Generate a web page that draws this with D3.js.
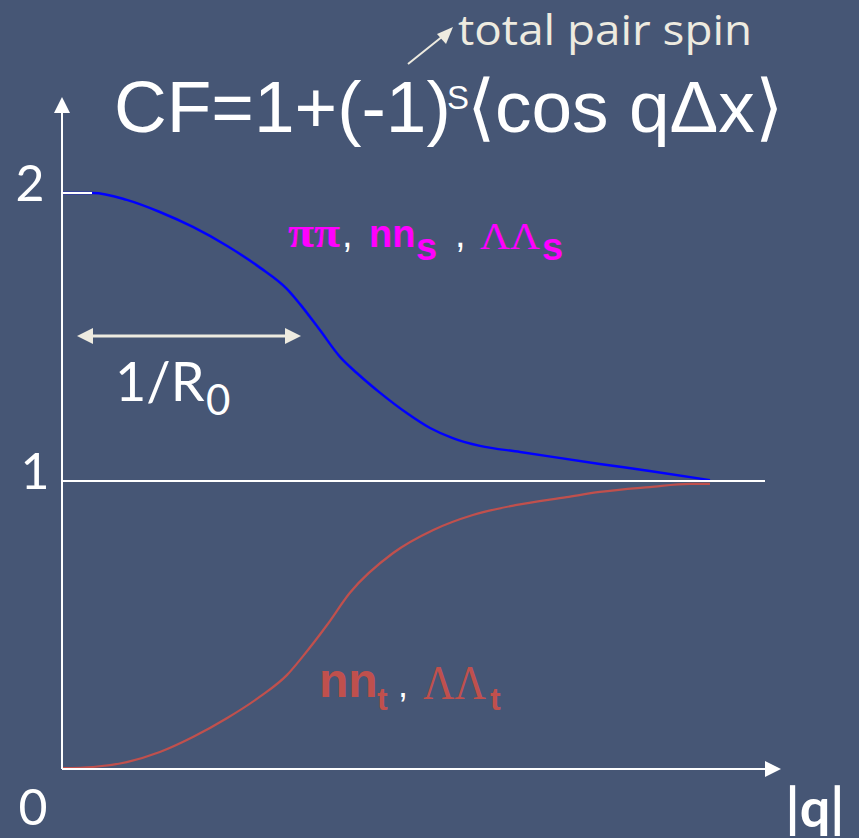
<!DOCTYPE html>
<html>
<head>
<meta charset="utf-8">
<script src="https://cdn.jsdelivr.net/npm/d3@7"></script>
<style>
  html, body { margin: 0; padding: 0; background: #465675; }
  svg { display: block; }
</style>
</head>
<body>
<svg id="chart" width="859" height="838"></svg>
<script>
// Momentum transfer |q| (arbitrary units) at which the curves are sampled
const qSinglet = [0, 0.48, 1.0, 1.51, 2.02, 2.55, 3.06, 3.47, 3.67, 3.98, 4.29, 4.55, 4.91, 5.32, 5.68, 6.03, 6.45, 7.07, 8.30, 9.07, 10];
// Correlation function for spin-singlet pairs (ππ, nn_s, ΛΛ_s)
const cfSinglet = [2.000, 2.000, 1.976, 1.934, 1.882, 1.816, 1.740, 1.667, 1.615, 1.524, 1.431, 1.375, 1.306, 1.236, 1.184, 1.149, 1.122, 1.101, 1.059, 1.035, 1.003];

const qTriplet = [0, 0.48, 1.0, 1.51, 2.02, 2.55, 3.06, 3.47, 3.72, 4.09, 4.44, 5.11, 5.73, 6.34, 7.02, 7.79, 8.30, 9.07, 9.69, 10];
// Correlation function for spin-triplet pairs (nn_t, ΛΛ_t)
const cfTriplet = [0.003, 0.007, 0.024, 0.059, 0.111, 0.177, 0.252, 0.326, 0.392, 0.500, 0.611, 0.750, 0.830, 0.882, 0.917, 0.944, 0.962, 0.979, 0.990, 0.990];

const yTickLabels = ["0", "1", "2"];

const svg = d3.select("#chart");
const x = d3.scaleLinear().domain([0, 10]).range([62, 710]);
const y = d3.scaleLinear().domain([0, 2]).range([769, 193]);

const white = "#ffffff";
const cream = "#eeebe0";

// Curves
const line = d3.line().x(d => x(d[0])).y(d => y(d[1])).curve(d3.curveMonotoneX);

svg.append("path")
  .datum(d3.zip(qTriplet, cfTriplet))
  .attr("d", line)
  .attr("fill", "none")
  .attr("stroke", "#c0504d")
  .attr("stroke-width", 2.2);

svg.append("path")
  .datum(d3.zip(qSinglet, cfSinglet))
  .attr("d", line)
  .attr("fill", "none")
  .attr("stroke", "#0000ff")
  .attr("stroke-width", 2.5);

// Axes with arrowheads
const x0 = x(0), y0 = y(0);
svg.append("line").attr("x1", x0).attr("y1", y0).attr("x2", 768).attr("y2", y0)
  .attr("stroke", white).attr("stroke-width", 2);
svg.append("path").attr("d", `M781,${y0} L765,${y0 - 8} L765,${y0 + 8} Z`).attr("fill", white);

svg.append("line").attr("x1", x0).attr("y1", y0).attr("x2", x0).attr("y2", 110)
  .attr("stroke", white).attr("stroke-width", 2);
svg.append("path").attr("d", `M${x0},97 L${x0 - 8},113 L${x0 + 8},113 Z`).attr("fill", white);

// Reference line CF = 1 and the short mark at CF = 2
svg.append("line").attr("x1", x0).attr("x2", 765).attr("y1", y(1)).attr("y2", y(1))
  .attr("stroke", white).attr("stroke-width", 2);
svg.append("line").attr("x1", x0).attr("x2", 92).attr("y1", y(2)).attr("y2", y(2))
  .attr("stroke", white).attr("stroke-width", 2);

// Tick labels
const tickFont = "Lato, 'Open Sans', sans-serif";
svg.selectAll("text.tick")
  .data(yTickLabels)
  .join("text")
  .attr("class", "tick")
  .attr("x", (d, i) => [33, 35, 30][i])
  .attr("y", (d, i) => i === 0 ? 825 : y(+d) + 8)
  .attr("text-anchor", "middle")
  .attr("font-family", tickFont)
  .attr("font-size", 50)
  .attr("fill", white)
  .text(d => d);

svg.append("text")
  .attr("x", 815).attr("y", 827)
  .attr("text-anchor", "middle")
  .attr("font-family", tickFont)
  .attr("font-weight", "bold")
  .attr("font-size", 54)
  .attr("fill", white)
  .text("|q|");

// Title formula
const title = svg.append("text")
  .attr("x", 114).attr("y", 132)
  .attr("font-family", "'Liberation Sans', Arial, sans-serif")
  .attr("font-size", 73)
  .attr("fill", white);
title.append("tspan").text("CF=1+(-1)");
title.append("tspan").attr("x", 447).attr("font-size", 33).attr("dy", -23).text("S");
title.append("tspan").attr("x", 467).attr("dy", 23).text("⟨cos qΔx⟩");

// Annotation pointing to the exponent
svg.append("line").attr("x1", 408).attr("y1", 64).attr("x2", 443).attr("y2", 36)
  .attr("stroke", cream).attr("stroke-width", 2);
svg.append("path").attr("d", "M453,27 L437,34 L446,44 Z").attr("fill", cream);
svg.append("text")
  .attr("x", 458).attr("y", 45)
  .attr("font-family", "'Open Sans', Lato, sans-serif")
  .attr("font-size", 42)
  .attr("textLength", 294)
  .attr("lengthAdjust", "spacingAndGlyphs")
  .attr("fill", cream)
  .text("total pair spin");

// 1/R0 width marker
const ay = 336;
svg.append("line").attr("x1", 90).attr("x2", 288).attr("y1", ay).attr("y2", ay)
  .attr("stroke", cream).attr("stroke-width", 3);
svg.append("path").attr("d", `M77,${ay} L93,${ay - 8} L93,${ay + 8} Z`).attr("fill", cream);
svg.append("path").attr("d", `M301,${ay} L285,${ay - 8} L285,${ay + 8} Z`).attr("fill", cream);

const rLabel = svg.append("text")
  .attr("x", 115).attr("y", 401)
  .attr("font-family", tickFont)
  .attr("font-size", 54)
  .attr("fill", white);
rLabel.append("tspan").text("1/R");
rLabel.append("tspan").attr("x", 206).attr("font-size", 42).attr("dy", 14).text("0");

// Curve labels
const serif = "'Liberation Serif', 'Times New Roman', serif";
const sansBold = "'Liberation Sans', Arial, sans-serif";

const sLabel = svg.append("text")
  .attr("y", 247)
  .attr("font-size", 38)
  .attr("fill", "#ff00ff");
sLabel.append("tspan").attr("x", 288).attr("font-family", serif).attr("font-weight", "bold")
  .attr("font-size", 44).attr("textLength", 52).attr("lengthAdjust", "spacingAndGlyphs").text("ππ");
sLabel.append("tspan").attr("x", 342).attr("font-family", sansBold).attr("fill", white).text(",");
sLabel.append("tspan").attr("x", 369).attr("font-family", sansBold).attr("font-weight", "bold").text("nn");
sLabel.append("tspan").attr("x", 416).attr("font-family", sansBold).attr("font-weight", "bold").attr("dy", 13).text("s");
sLabel.append("tspan").attr("x", 455).attr("font-family", sansBold).attr("fill", white).attr("dy", -13).text(",");
sLabel.append("tspan").attr("x", 480).attr("font-family", serif).attr("font-size", 38).attr("dy", 2)
  .attr("textLength", 60).attr("lengthAdjust", "spacingAndGlyphs").text("ΛΛ");
sLabel.append("tspan").attr("x", 542).attr("font-family", sansBold).attr("font-weight", "bold").attr("dy", 11).text("s");

const tLabel = svg.append("text")
  .attr("y", 697)
  .attr("font-size", 48)
  .attr("fill", "#c0504d");
tLabel.append("tspan").attr("x", 319).attr("font-family", sansBold).attr("font-weight", "bold").text("nn");
tLabel.append("tspan").attr("x", 377).attr("font-family", sansBold).attr("font-weight", "bold").attr("dy", 13).attr("font-size", 32).text("t");
tLabel.append("tspan").attr("x", 398).attr("font-family", sansBold).attr("fill", white).attr("font-size", 36).attr("dy", -13).text(",");
tLabel.append("tspan").attr("x", 423).attr("font-family", serif).attr("font-size", 48).attr("dy", 2)
  .attr("textLength", 63).attr("lengthAdjust", "spacingAndGlyphs").text("ΛΛ");
tLabel.append("tspan").attr("x", 490).attr("font-family", sansBold).attr("font-weight", "bold").attr("dy", 11).attr("font-size", 32).text("t");
</script>
</body>
</html>
